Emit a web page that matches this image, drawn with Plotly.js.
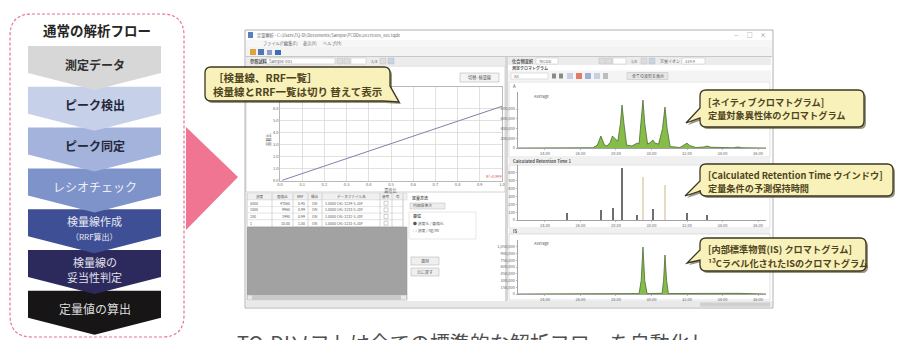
<!DOCTYPE html>
<html>
<head>
<meta charset="utf-8">
<script src="https://cdn.plot.ly/plotly-3.0.1.min.js"></script>
<style>
  html, body { margin: 0; padding: 0; background: #ffffff; }
  #chart { width: 901px; height: 340px; }
</style>
</head>
<body>
<div id="chart"></div>
<script>
// ---------------- data ----------------
// standard analysis flow, top to bottom
const flowTitle = "通常の解析フロー";
const flowSteps = [
  ["測定データ"],
  ["ピーク検出"],
  ["ピーク同定"],
  ["レシオチェック"],
  ["検量線作成", "（RRF算出）"],
  ["検量線の", "妥当性判定"],
  ["定量値の算出"]
];

// calibration curve (concentration ratio vs area ratio)
const calibConc  = [0.01, 0.2, 0.5, 1.0];
const calibRatio = [0.06, 1.25, 3.1, 6.2];
const calibXTicks = [0, 0.1, 0.2, 0.3, 0.4, 0.5, 0.6, 0.7, 0.8, 0.9, 1.0];
const calibYTicks = [0, 1, 2, 3, 4, 5, 6];

// calibration table rows
const tableHeader = ["濃度", "面積比", "RRF", "検出", "データファイル名", "使用", "有"];
const tableConc   = ["5000", "1000", "200", "1"];
const tableArea   = ["47560", "9960", "1990", "10.00"];
const tableRrf    = ["0.95", "0.99", "0.99", "1.00"];
const tableDetect = ["ON", "ON", "ON", "ON"];
const tableFile   = ["1.0000 CAL-1234-S.JDF", "1.0000 CAL-1233-S.JDF", "1.0000 CAL-1232-S.JDF", "1.0000 CAL-1231-S.JDF"];

// retention-time axis shared by the three chromatograms (min)
const rtTicks = [24, 26, 28, 30, 32, 34, 36];

// native isomer chromatogram
const nativeTime = [22.48, 26.70, 26.95, 27.15, 27.35, 27.50, 27.68, 27.80, 27.92, 28.10, 28.25, 28.34, 28.45, 28.60,
                    28.90, 29.05, 29.18, 29.30, 29.42, 29.52, 29.62, 29.78, 29.95, 30.08, 30.20, 30.40, 30.62, 30.76,
                    30.88, 31.05, 31.60, 31.85, 32.00, 32.15, 32.50, 32.95, 33.13, 33.35, 34.60, 34.87, 35.10, 36.45];
const nativeInt  = [0, 5000, 60000, 246000, 60000, 40000, 120000, 246000, 200000, 140000, 500000, 882000, 500000, 60000,
                    40000, 70000, 100000, 90000, 500000, 985000, 500000, 80000, 120000, 164000, 100000, 80000, 400000, 841000,
                    400000, 30000, 10000, 60000, 100000, 50000, 10000, 20000, 40000, 15000, 5000, 20000, 5000, 0];
const nativeYTicks = [0, 200000, 400000, 600000, 800000];

// calculated retention time window
const crtTime   = [25.24, 27.15, 27.83, 28.34, 29.18, 29.52, 30.08, 30.76, 32.00, 33.13];
const crtHeight = [89, 127, 153, 662, 64, 547, 140, 445, 89, 64];
const crtKind   = ["native", "native", "native", "native", "native", "labeled", "native", "labeled", "native", "native"];
const crtYTicks = [0, 100, 200, 300, 400, 500, 600];

// internal standard (13C labelled) chromatogram
const isTime = [22.48, 25.50, 26.80, 27.00, 28.20, 29.30, 29.42, 29.52, 29.62, 29.75, 30.60, 30.68, 30.76, 30.85, 30.95,
                33.40, 33.58, 33.80, 34.87, 36.45];
const isInt  = [0, 5000, 10000, 5000, 5000, 10000, 300000, 1044000, 300000, 10000, 15000, 300000, 867000, 300000, 10000,
                10000, 20000, 8000, 15000, 0];
const isYTicks = [0, 150000, 300000, 450000, 600000, 750000, 900000, 1050000];

// callout texts
const calloutCalib  = ["［検量線、RRF一覧］", "検量線とRRF一覧は切り 替えて表示"];
const calloutNative = ["[ネイティブクロマトグラム]", "定量対象異性体のクロマトグラム"];
const calloutCrt    = ["[Calculated Retention Time ウインドウ]", "定量条件の予測保持時間"];
const calloutIs     = ["[内部標準物質(IS) クロマトグラム]", "¹³Cラベル化されたISのクロマトグラム"];

const captionText = "TQ-DIソフトは全ての標準的な解析フローを自動化し";

// ---------------- helpers ----------------
const W = 901, H = 340;
const FONT = '"Noto Sans CJK JP", "Noto Sans", sans-serif';
const X = p => p / W;
const Y = p => 1 - p / H;
const P = (x, y) => X(x).toFixed(5) + ',' + Y(y).toFixed(5);

const shapes = [];
const notes = [];

function box(x0, y0, x1, y1, fill, line, lw, layer) {
  shapes.push({
    type: 'rect', xref: 'paper', yref: 'paper',
    x0: X(x0), x1: X(x1), y0: Y(y1), y1: Y(y0),
    fillcolor: fill || 'rgba(0,0,0,0)',
    line: { color: line || 'rgba(0,0,0,0)', width: line ? (lw || 0.6) : 0 },
    layer: layer || 'below'
  });
}
function path(d, fill, line, lw, layer, dash) {
  shapes.push({
    type: 'path', xref: 'paper', yref: 'paper', path: d,
    fillcolor: fill || 'rgba(0,0,0,0)',
    line: { color: line || 'rgba(0,0,0,0)', width: line ? (lw || 1) : 0, dash: dash || 'solid' },
    layer: layer || 'below'
  });
}
function txt(x, y, text, size, color, anchor, extra) {
  notes.push(Object.assign({
    xref: 'paper', yref: 'paper', x: X(x), y: Y(y), text: text, showarrow: false,
    xanchor: anchor || 'left', yanchor: 'middle', borderpad: 0,
    font: { family: FONT, size: size, color: color || '#555' }
  }, extra || {}));
}
function roundRect(x0, y0, x1, y1, r) {
  return `M${P(x0 + r, y0)} L${P(x1 - r, y0)} Q${P(x1, y0)} ${P(x1, y0 + r)} L${P(x1, y1 - r)} Q${P(x1, y1)} ${P(x1 - r, y1)} ` +
         `L${P(x0 + r, y1)} Q${P(x0, y1)} ${P(x0, y1 - r)} L${P(x0, y0 + r)} Q${P(x0, y0)} ${P(x0 + r, y0)} Z`;
}
// speech bubble with a tail on the left or at the lower right corner
function bubble(x0, y0, x1, y1, r, tail) {
  let d = `M${P(x0 + r, y0)} L${P(x1 - r, y0)} Q${P(x1, y0)} ${P(x1, y0 + r)} `;
  if (tail.side === 'right') {
    d += `L${P(x1, tail.a)} L${P(tail.tx, tail.ty)} L${P(tail.b, y1)} `;
    d += `L${P(x0 + r, y1)} Q${P(x0, y1)} ${P(x0, y1 - r)} L${P(x0, y0 + r)} Q${P(x0, y0)} ${P(x0 + r, y0)} Z`;
  } else {
    d += `L${P(x1, y1 - r)} Q${P(x1, y1)} ${P(x1 - r, y1)} L${P(x0 + r, y1)} Q${P(x0, y1)} ${P(x0, y1 - r)} `;
    d += `L${P(x0, tail.b)} L${P(tail.tx, tail.ty)} L${P(x0, tail.a)} L${P(x0, y0 + r)} Q${P(x0, y0)} ${P(x0 + r, y0)} Z`;
  }
  return d;
}
function callout(x0, y0, x1, y1, tail, lines, size, lineYs) {
  const sh = Object.assign({}, tail, { tx: tail.tx + 2, ty: tail.ty + 2, a: tail.a + 2, b: tail.b + 2 });
  path(bubble(x0 + 2, y0 + 2, x1 + 2, y1 + 2, 6, sh), 'rgba(70,62,30,0.55)', null, 0, 'above');
  path(bubble(x0, y0, x1, y1, 6, tail), '#f8f1ba', '#3b3722', 1.3, 'above');
  lines.forEach((t, i) => txt(x0 + 7, lineYs[i], '<b>' + t + '</b>', size, '#4f4420'));
}

// ---------------- flow column ----------------
path(roundRect(10, 14, 184, 337, 22), null, '#e8738f', 1.2, 'below', '3px,2px');
txt(97, 30, '<b>' + flowTitle + '</b>', 13.5, '#262626', 'center');

const bandFill = ["#d7d7d7", "#c6d0e9", "#a4b3dc", "#7e93ca", "#3f4f95", "#2c2a5c", "#171515"];
const bandInk  = ["#2f2f2f", "#25273a", "#25273a", "#eef0f8", "#e6e8f2", "#e1e1ec", "#dcdcdc"];
const bx0 = 28, bx1 = 161, bxc = (bx0 + bx1) / 2;
for (let i = flowSteps.length - 1; i >= 0; i--) {
  const T = 46 + 40.8 * i;
  path(`M${P(bx0, T)} L${P(bx1, T)} L${P(bx1, T + 27)} L${P(bxc, T + 44)} L${P(bx0, T + 27)} Z`, bandFill[i], null, 0, 'below');
}
flowSteps.forEach((lines, i) => {
  const T = 46 + 40.8 * i;
  const bold = i < 3;
  const wrap = s => bold ? '<b>' + s + '</b>' : s;
  if (lines.length === 1) {
    txt(bxc, T + 18, wrap(lines[0]), 12, bandInk[i], 'center');
  } else {
    txt(bxc, T + 12, wrap(lines[0]), 11, bandInk[i], 'center');
    txt(bxc, T + 27, wrap(lines[1]), i === 4 ? 8 : 11, bandInk[i], 'center');
  }
});

// pink arrow pointing to the software window
path(`M${P(186, 127)} L${P(238, 177)} L${P(186, 230)} Z`, '#ef7592', null, 0, 'below');

// ---------------- software window ----------------
box(245, 30, 773, 308, '#ffffff', '#9c9c9c', 0.8);
// title bar
box(248, 32, 253, 38, '#5a7fc0');
txt(256, 35.2, '定量解析 - C:\\Users\\TQ-DI\\Documents\\Sample\\PCDDs\\20170305_001.tqdx', 4.2, '#666');
txt(736, 35, '—', 5, '#777', 'center');
txt(750, 35, '□', 5.5, '#777', 'center');
txt(763, 35, '×', 6, '#777', 'center');
// menu bar
box(246, 40, 772, 47, '#f7f7f7');
[['ファイル(F)', 262], ['編集(E)', 283], ['表示(V)', 302], ['ヘルプ(H)', 322]].forEach(m => txt(m[1], 43.5, m[0], 4.2, '#666'));
// toolbar
box(246, 47, 772, 56, '#f3f3f3');
box(250, 49, 256, 55, '#e0a23a');
box(258, 49, 264, 55, '#4f78b8');
box(267, 50, 272, 55, '#8aa0c8');
box(275, 50, 281, 55, '#3d6fb5');
box(246, 56, 772, 57, '#c8c8c8');

// left pane header
box(246, 57, 505, 65, '#ececec');
txt(249, 61, '<b>参照試料</b>', 4.2, '#555');
box(266, 58, 335, 64, '#ffffff', '#b5b5b5', 0.5);
txt(268, 61, 'Sample-001', 4.2, '#666');
box(337, 58, 343, 64, '#dcdcdc', '#b5b5b5', 0.4);
box(344, 58, 350, 64, '#dcdcdc', '#b5b5b5', 0.4);
box(351, 58, 366, 64, '#ffffff', '#b5b5b5', 0.4);
txt(370, 61, '1/4', 4.2, '#666');
box(380, 58, 386, 64, '#dcdcdc', '#b5b5b5', 0.4);
box(388, 58, 394, 64, '#c9d3e6', '#b5b5b5', 0.4);

// calibration panel
box(246, 66, 505, 192, '#ffffff', '#b8b8b8', 0.6);
box(460, 73, 499, 82, '#f4f4f4', '#a8a8a8', 0.5);
txt(479.5, 77.5, '切替: 検量線', 4.2, '#555', 'center');
txt(268, 140, '面積比', 4.2, '#555', 'center', { textangle: -90 });
txt(390, 190, '濃度比', 4.2, '#555', 'center');
txt(494, 176.5, 'R²=0.999', 3.8, '#e05050', 'center');

// calibration table
box(247, 193, 407, 300, '#ffffff');
box(247, 193, 407, 200, '#f0f0f0', '#c4c4c4', 0.4);
const colX = [247, 272, 293, 308, 322, 380, 392, 403];
for (let r = 1; r <= 4; r++) box(247, 200 + 6.6 * (r - 1), 403, 200 + 6.6 * r, '#ffffff', '#cfcfcf', 0.4);
colX.forEach(cx => box(cx, 193, cx + 0.01, 226.4, null, '#c4c4c4', 0.4));
tableHeader.forEach((h, i) => txt((colX[i] + colX[i + 1]) / 2, 196.5, h, 3.6, '#555', 'center'));
tableConc.forEach((v, r) => {
  const yy = 203.3 + 6.6 * r;
  txt(249, yy, v, 3.6, '#555');
  txt(291, yy, tableArea[r], 3.6, '#555', 'right');
  txt(306, yy, tableRrf[r], 3.6, '#555', 'right');
  txt(315, yy, tableDetect[r], 3.6, '#555', 'center');
  txt(324, yy, tableFile[r], 3.6, '#555');
  box(384, yy - 2, 388, yy + 2, '#ffffff', '#888', 0.4);
});
box(247, 227, 407, 300, '#a2a2a2', '#8c8c8c', 0.5);
box(247, 295, 407, 300, '#c9c9c9');
box(248, 295.5, 252, 299.5, '#e8e8e8');
box(401, 295.5, 406, 299.5, '#e8e8e8');

// quantitation controls
box(408, 193, 504, 300, '#ffffff');
txt(411, 198, '<b>定量方法</b>', 4, '#555');
box(410, 203, 445, 209, '#eeeeee', '#aaaaaa', 0.4);
txt(412, 206, '内部標準法', 3.8, '#555');
box(409, 212, 476, 239, '#ffffff', '#cccccc', 0.5);
txt(412, 215.5, '<b>単位</b>', 4, '#555');
txt(412, 223, '● 濃度比 / 面積比', 3.8, '#555');
txt(412, 230, '○ 濃度 / ng/ml', 3.8, '#555');
box(411, 257, 439, 265, '#efefef', '#aaaaaa', 0.5);
txt(425, 261, '適用', 4, '#555', 'center');
box(411, 268, 439, 276, '#efefef', '#aaaaaa', 0.5);
txt(425, 272, '元に戻す', 4, '#555', 'center');

// splitter and status bar
box(505, 57, 508, 301, '#d6d6d6');
box(246, 301, 772, 307, '#e9e9e9');
box(700, 302.5, 770, 306.5, '#d0d0d0');

// right pane header rows
box(508, 57, 771, 65, '#ececec');
txt(511, 61, '<b>化合物選択</b>', 4.2, '#555');
box(536, 58, 558, 64, '#ffffff', '#b5b5b5', 0.4);
txt(538, 61, 'TeCDD', 4, '#666');
box(599, 58, 605, 64, '#dcdcdc', '#b5b5b5', 0.4);
box(606, 58, 612, 64, '#dcdcdc', '#b5b5b5', 0.4);
box(613, 58, 626, 64, '#ffffff', '#b5b5b5', 0.4);
txt(630, 61, '1/8', 4, '#666');
box(641, 58, 647, 64, '#dcdcdc', '#b5b5b5', 0.4);
box(649, 58, 655, 64, '#c9d3e6', '#b5b5b5', 0.4);
txt(659, 61, '定量イオン', 4, '#666');
box(682, 58, 705, 64, '#ffffff', '#b5b5b5', 0.4);
txt(684, 61, '319.9', 4, '#666');
box(508, 65, 771, 70.5, '#ffffff');
txt(511, 67.8, '<b>測定クロマトグラム</b>', 4, '#555');
box(508, 70.5, 771, 81, '#f4f4f4');
box(511, 73, 548, 79, '#ffffff', '#b5b5b5', 0.4);
txt(513, 76, 'All', 4, '#666');
box(552, 73.5, 556, 78.5, '#8a8a8a');
box(559, 73.5, 563, 78.5, '#8a8a8a');
box(567, 73, 573, 79, '#c7cfe3');
box(576, 73, 582, 79, '#e07a6a');
box(585, 73, 591, 79, '#9fb0d4');
box(594, 73, 600, 79, '#c7cfe3');
box(603, 73, 608, 79, '#bcbcbc');
box(627, 72.5, 668, 79.5, '#e6e6e6', '#b0b0b0', 0.4);
txt(647.5, 76, '全ての波形を表示', 4, '#555', 'center');

// chromatogram panels
box(509, 82, 770, 157, '#ffffff', '#c0c0c0', 0.5);
txt(512, 86, 'A', 4.2, '#555');
txt(533, 96, 'Average', 4, '#555');
box(509, 157.5, 770, 164.5, '#f0f0f0');
txt(512, 161, '<b>Calculated Retention Time 1</b>', 4.2, '#555');
box(509, 165, 770, 228, '#ffffff', '#c0c0c0', 0.5);
box(509, 228.5, 770, 234, '#f0f0f0');
txt(512, 231.2, '<b>IS</b>', 4.2, '#555');
box(509, 234, 770, 300, '#ffffff', '#c0c0c0', 0.5);
txt(533, 243, 'Average', 4, '#555');

// callouts
callout(205, 67, 390, 101, { side: 'right', a: 86, tx: 399, ty: 102, b: 383 }, calloutCalib, 10.5, [77.5, 92]);
callout(700, 90, 864, 127, { side: 'left', a: 108, b: 118, tx: 686, ty: 123 }, calloutNative, 9.2, [101.5, 114.5]);
callout(700, 164, 893, 196, { side: 'left', a: 181, b: 191, tx: 685, ty: 196 }, calloutCrt, 9.2, [175, 188]);
callout(700, 238, 866, 271, { side: 'left', a: 250, b: 260, tx: 687, ty: 263 }, calloutIs, 9.2, [249.5, 262.5]);

// caption under the window (runs off the bottom edge)
txt(236, 327, captionText, 20, '#4f4f4f', 'left', { yanchor: 'top' });

// ---------------- traces ----------------
const fmtRt = v => v.toFixed(2);
const fmtInt = v => v.toLocaleString('en-US');

const traces = [
  { // calibration line
    type: 'scatter', mode: 'lines', x: calibConc, y: calibRatio,
    line: { color: '#7f82a8', width: 1 }, xaxis: 'x', yaxis: 'y', hoverinfo: 'skip'
  },
  { // native chromatogram
    type: 'scatter', mode: 'lines', x: nativeTime, y: nativeInt, fill: 'tozeroy',
    fillcolor: '#86bd48', line: { color: '#4d6b34', width: 0.8 }, xaxis: 'x2', yaxis: 'y2', hoverinfo: 'skip'
  },
  { // calculated retention time sticks
    type: 'bar', x: crtTime, y: crtHeight, width: 0.07,
    marker: { color: crtKind.map(k => k === 'labeled' ? '#e4dcc2' : '#6f6f6f'), line: { width: 0 } },
    xaxis: 'x3', yaxis: 'y3', hoverinfo: 'skip'
  },
  { // internal standard chromatogram
    type: 'scatter', mode: 'lines', x: isTime, y: isInt, fill: 'tozeroy',
    fillcolor: '#86bd48', line: { color: '#4d6b34', width: 0.8 }, xaxis: 'x4', yaxis: 'y4', hoverinfo: 'skip'
  }
];

const tickFont = { family: FONT, size: 4, color: '#666' };
function chromX(anchor) {
  return {
    domain: [X(518), X(766)], range: [22.48, 36.45], anchor: anchor,
    tickvals: rtTicks, ticktext: rtTicks.map(fmtRt), tickfont: tickFont,
    showgrid: false, zeroline: false, showline: true, linecolor: '#7a7a7a', linewidth: 0.7,
    ticks: 'outside', ticklen: 1.5, tickcolor: '#7a7a7a', tickwidth: 0.5, fixedrange: true
  };
}
function chromY(anchor, yb, yt, range, ticks, fmt) {
  return {
    domain: [Y(yb), Y(yt)], range: range, anchor: anchor,
    tickvals: ticks, ticktext: ticks.map(fmt), tickfont: tickFont,
    showgrid: false, zeroline: false, showline: true, linecolor: '#7a7a7a', linewidth: 0.7,
    ticks: 'outside', ticklen: 1.5, tickcolor: '#7a7a7a', tickwidth: 0.5, fixedrange: true
  };
}

const layout = {
  width: W, height: H,
  margin: { l: 0, r: 0, t: 0, b: 0, pad: 0 },
  paper_bgcolor: '#ffffff', plot_bgcolor: 'rgba(0,0,0,0)',
  showlegend: false, bargap: 0,
  font: { family: FONT, size: 4, color: '#666' },
  xaxis: {
    domain: [X(280), X(502)], range: [0, 1], anchor: 'y',
    tickvals: calibXTicks, ticktext: calibXTicks.map(v => v.toFixed(1)), tickfont: tickFont,
    showgrid: true, gridcolor: '#cdcdcd', gridwidth: 0.6, zeroline: false,
    showline: true, linecolor: '#8a8a8a', linewidth: 0.6, mirror: true, ticks: '', fixedrange: true
  },
  yaxis: {
    domain: [Y(181), Y(87)], range: [0, 7.8], anchor: 'x',
    tickvals: calibYTicks, ticktext: calibYTicks.map(v => v.toFixed(1)), tickfont: tickFont,
    showgrid: true, gridcolor: '#cdcdcd', gridwidth: 0.6, zeroline: false,
    showline: true, linecolor: '#8a8a8a', linewidth: 0.6, mirror: true, ticks: '', fixedrange: true
  },
  xaxis2: chromX('y2'),
  yaxis2: chromY('x2', 148, 92, [0, 1150000], nativeYTicks, fmtInt),
  xaxis3: chromX('y3'),
  yaxis3: chromY('x3', 220, 165, [0, 700], crtYTicks, v => String(v)),
  xaxis4: chromX('y4'),
  yaxis4: chromY('x4', 294, 240, [0, 1200000], isYTicks, fmtInt),
  shapes: shapes,
  annotations: notes
};

Plotly.newPlot('chart', traces, layout, { staticPlot: true, displayModeBar: false });
</script>
</body>
</html>
